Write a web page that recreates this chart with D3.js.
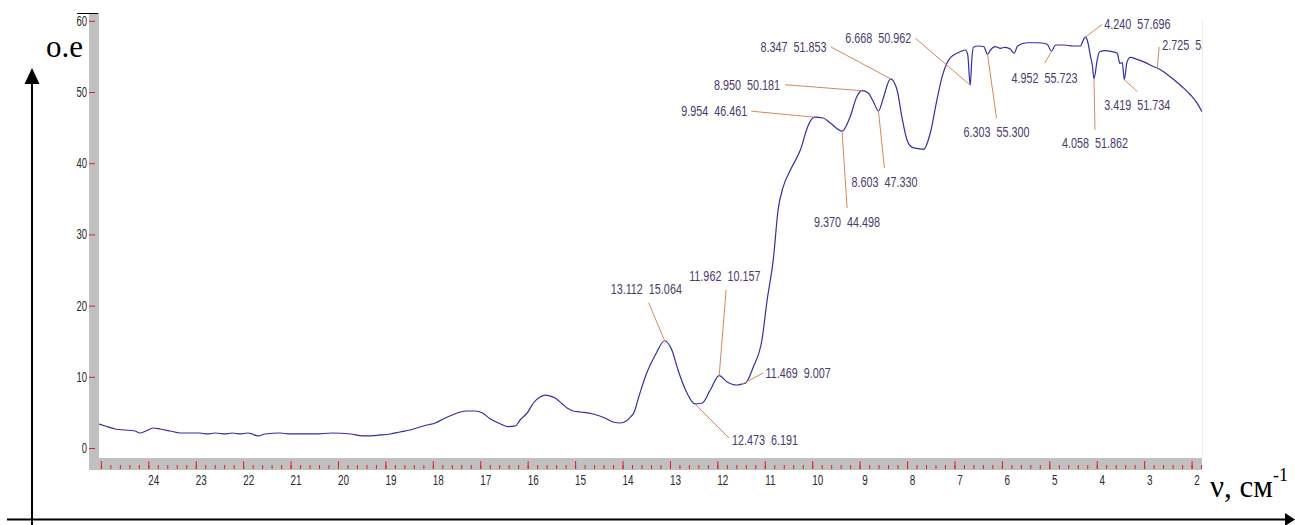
<!DOCTYPE html>
<html>
<head>
<meta charset="utf-8">
<script src="https://cdn.jsdelivr.net/npm/d3@7"></script>
<style>
  html, body { margin: 0; padding: 0; background: #ffffff; }
  svg { display: block; }
  .lbl { font-family: "Liberation Sans", Arial, Helvetica, sans-serif; }
  .ttl { font-family: "Liberation Serif", "Times New Roman", Times, serif; }
</style>
</head>
<body>
<svg id="chart" width="1295" height="525"></svg>
<script>
// ---------------- data ----------------
const wavenumber = [
  25.04, 24.91, 24.70, 24.49, 24.28, 24.18, 24.05, 23.90, 23.75, 23.54,
  23.33, 23.12, 22.91, 22.76, 22.59, 22.38, 22.23, 22.07, 21.90, 21.81,
  21.69, 21.54, 21.22, 21.01, 20.80, 20.48, 20.12, 19.74, 19.47, 19.11,
  18.90, 18.69, 18.48, 18.27, 18.12, 17.95, 17.78, 17.59, 17.42, 17.28,
  17.11, 16.96, 16.79, 16.58, 16.41, 16.26, 16.16, 16.01, 15.88, 15.74,
  15.63, 15.53, 15.42, 15.27, 15.17, 15.04, 14.89, 14.62, 14.37, 14.20,
  14.05, 13.92, 13.84, 13.75, 13.67, 13.58, 13.49, 13.31, 13.112, 12.96, 12.83,
  12.64, 12.473, 12.32, 12.15, 11.962, 11.80, 11.59, 11.469, 11.41, 11.24,
  11.06, 10.95, 10.82, 10.72, 10.61, 10.46, 10.25, 10.08, 9.954, 9.77,
  9.62, 9.370, 9.20, 9.06, 8.950, 8.82, 8.71, 8.603, 8.50, 8.39,
  8.347, 8.21, 8.11, 8.00, 7.89, 7.79, 7.65, 7.51, 7.37, 7.26,
  7.16, 7.07, 6.95, 6.88, 6.77, 6.72, 6.668, 6.63, 6.60, 6.49,
  6.38, 6.303, 6.24, 6.14, 6.03, 5.93, 5.82, 5.74, 5.67, 5.47,
  5.26, 5.05, 4.952, 4.87, 4.70, 4.49, 4.34, 4.30, 4.240, 4.20,
  4.13, 4.09, 4.058, 3.99, 3.94, 3.82, 3.68, 3.57, 3.51, 3.46,
  3.419, 3.36, 3.29, 3.15, 2.97, 2.80, 2.725, 2.59, 2.41, 2.20,
  2.02, 1.88, 1.78
];
const intensity = [
  3.37, 3.09, 2.67, 2.53, 2.39, 2.11, 2.39, 2.81, 2.67, 2.39,
  2.11, 2.11, 2.11, 1.97, 2.11, 1.97, 2.11, 1.97, 2.11, 1.97,
  1.69, 1.97, 2.11, 1.97, 1.97, 1.97, 2.11, 1.97, 1.69, 1.83,
  1.97, 2.25, 2.53, 2.95, 3.23, 3.51, 4.07, 4.63, 5.06, 5.20,
  5.20, 4.95, 4.10, 3.40, 3.00, 3.10, 3.93, 4.92, 6.32, 7.16,
  7.44, 7.30, 7.02, 6.18, 5.62, 5.20, 5.06, 4.78, 4.21, 3.65,
  3.51, 3.79, 4.30, 5.10, 6.90, 8.80, 10.53, 13.06, 15.064, 13.76, 10.96,
  7.72, 6.191, 6.32, 8.15, 10.157, 9.31, 8.85, 9.007, 9.09, 11.42,
  15.17, 20.79, 26.5, 33.43, 36.70, 39.04, 41.85, 45.37, 46.461, 46.35,
  45.65, 44.498, 46.53, 49.34, 50.181, 49.86, 48.64, 47.330, 49.16, 51.45,
  51.853, 50.28, 46.53, 43.26, 42.23, 42.09, 41.95, 44.24, 48.88, 52.15,
  54.03, 54.92, 55.44, 55.66, 55.90, 55.20, 50.962, 54.96, 56.28, 56.46,
  56.36, 55.300, 55.90, 56.36, 56.14, 56.28, 56.00, 55.44, 56.46, 56.92,
  56.92, 56.74, 55.723, 56.60, 56.60, 56.46, 56.46, 57.07, 57.696, 57.30,
  54.96, 53.65, 51.862, 54.49, 55.66, 55.80, 55.66, 55.44, 54.03, 54.12,
  51.734, 54.26, 54.87, 54.59, 54.12, 53.55, 53.37, 52.85, 51.92, 50.74,
  49.58, 48.41, 47.23
];

// labelled peaks
const peakWavenumber = [13.112, 11.962, 11.469, 12.473, 9.954, 8.950, 8.347, 6.668,
                        8.603, 9.370, 6.303, 4.952, 4.240, 4.058, 3.419, 2.725];
const peakValue      = [15.064, 10.157, 9.007, 6.191, 46.461, 50.181, 51.853, 50.962,
                        47.330, 44.498, 55.300, 55.723, 57.696, 51.862, 51.734, 53.370];

const yTickValues = [0, 10, 20, 30, 40, 50, 60];
const xMajorTicks = d3.range(2, 26, 1);
const xMinorTicks = d3.range(18, 251, 2).map(d => d / 10);
const xTickLabels = d3.range(2, 25, 1);

const yAxisTitle = "o.e";
const xAxisTitle = "ν, см";
const xAxisTitleSup = "-1";

// ---------------- layout ----------------
// leader start offset (lx, ly) from the point, text offset (tx, ty) from the leader start
const labelLayout = [
  { lx: -16, ly: -38, tx: -38, ty: -9,  anchor: "start" },
  { lx:   7, ly: -86, tx: -37, ty: -9,  anchor: "start" },
  { lx:  21, ly: -11, tx:   2, ty:  5,  anchor: "start" },
  { lx:  34, ly:  34, tx:   3, ty:  7,  anchor: "start" },
  { lx: -63, ly:  -6, tx:  -4, ty:  5,  anchor: "end" },
  { lx: -77, ly:  -6, tx:  -5, ty:  5,  anchor: "end" },
  { lx: -60, ly: -32, tx:  -4, ty:  5,  anchor: "end" },
  { lx: -55, ly: -47, tx:  -4, ty:  5,  anchor: "end" },
  { lx:   6, ly:  57, tx:   0, ty: 19,  anchor: "middle" },
  { lx:   5, ly:  77, tx:   0, ty: 19,  anchor: "middle" },
  { lx:   9, ly:  64, tx:   0, ty: 19,  anchor: "middle" },
  { lx:  -7, ly:  12, tx:   0, ty: 20,  anchor: "middle" },
  { lx:  17, ly: -13, tx:   2, ty:  5,  anchor: "start" },
  { lx:   1, ly:  51, tx:   0, ty: 18,  anchor: "middle" },
  { lx:  13, ly:  12, tx:   0, ty: 18,  anchor: "middle" },
  { lx:   2, ly: -21, tx:   3, ty:  3,  anchor: "start" }
];

const plot = { left: 99, right: 1202, top: 13, bottom: 458 };

// condense text horizontally (the reference uses a narrow font)
function condense(sel, factor) {
  sel.each(function () {
    const w = this.getComputedTextLength();
    if (w > 0) {
      this.setAttribute("textLength", (w * factor).toFixed(2));
      this.setAttribute("lengthAdjust", "spacingAndGlyphs");
    }
  });
}

const svg = d3.select("#chart");

const x = d3.scaleLinear().domain([25.04, 1.78]).range([plot.left, plot.right]);
const y = d3.scaleLinear().domain([0, 60]).range([448, 20.8]);

svg.append("defs").append("clipPath").attr("id", "plotclip")
  .append("rect").attr("x", plot.left).attr("y", plot.top)
  .attr("width", plot.right - plot.left).attr("height", plot.bottom - plot.top);

// gray frame bands
svg.append("rect").attr("x", 89).attr("y", plot.top).attr("width", plot.left - 89)
  .attr("height", 470 - plot.top).attr("fill", "#c0c0c0");
svg.append("rect").attr("x", 89).attr("y", plot.bottom).attr("width", plot.right - 89)
  .attr("height", 12).attr("fill", "#c0c0c0");
svg.append("line").attr("x1", 77).attr("x2", 98).attr("y1", 13.5).attr("y2", 13.5)
  .attr("stroke", "#000").attr("stroke-width", 1);
svg.append("line").attr("x1", plot.right + 0.5).attr("x2", plot.right + 0.5)
  .attr("y1", 20).attr("y2", plot.bottom).attr("stroke", "#ecebe4").attr("stroke-width", 1);

// y axis
const yAxis = svg.append("g").attr("transform", "translate(95,0)")
  .call(d3.axisLeft(y).tickValues(yTickValues).tickSize(6).tickPadding(2).tickFormat(d3.format("d")));
yAxis.select(".domain").remove();
yAxis.selectAll(".tick line").attr("stroke", "#e02020").attr("stroke-width", 1);
yAxis.selectAll(".tick text").attr("class", "lbl").attr("fill", "#2a2a2a")
  .style("font-size", "14px").call(condense, 0.68);

// x ticks (red, inside bottom band)
const xMinor = svg.append("g").attr("transform", "translate(0,469)")
  .call(d3.axisTop(x).tickValues(xMinorTicks).tickSize(4).tickFormat(""));
xMinor.select(".domain").remove();
xMinor.selectAll(".tick line").attr("stroke", "#e02020");
const xMajor = svg.append("g").attr("transform", "translate(0,469)")
  .call(d3.axisTop(x).tickValues(xMajorTicks).tickSize(8).tickFormat(""));
xMajor.select(".domain").remove();
xMajor.selectAll(".tick line").attr("stroke", "#e02020");

const xLab = svg.append("g").attr("transform", "translate(0,470)")
  .call(d3.axisBottom(x).tickValues(xTickLabels).tickSize(0).tickPadding(4).tickFormat(d3.format("d")));
xLab.select(".domain").remove();
xLab.selectAll(".tick text").attr("class", "lbl").attr("fill", "#2a2a2a")
  .attr("dx", 5).style("font-size", "15px").call(condense, 0.66);

// curve
const pts = wavenumber.map((w, i) => [w, intensity[i]]);
const gPlot = svg.append("g").attr("clip-path", "url(#plotclip)");
gPlot.append("path").datum(pts)
  .attr("d", d3.line().x(d => x(d[0])).y(d => y(d[1])).curve(d3.curveMonotoneX))
  .attr("fill", "none").attr("stroke", "#2f2fa8").attr("stroke-width", 1.2);

// annotations
const fmt = d3.format(".3f");
peakWavenumber.forEach((w, i) => {
  const L = labelLayout[i];
  const px = x(w), py = y(peakValue[i]);
  const sx = px + L.lx, sy = py + L.ly;
  gPlot.append("line").attr("x1", sx).attr("y1", sy).attr("x2", px).attr("y2", py)
    .attr("stroke", "#d4895a").attr("stroke-width", 1);
  gPlot.append("text").attr("class", "lbl")
    .attr("x", sx + L.tx).attr("y", sy + L.ty)
    .attr("text-anchor", L.anchor)
    .attr("fill", "#4a3a6e").style("font-size", "15px")
    .text(fmt(w) + "\u00a0\u00a0" + fmt(peakValue[i]))
    .call(condense, 0.72);
});

// outer arrows
svg.append("line").attr("x1", 32).attr("x2", 32).attr("y1", 82).attr("y2", 525)
  .attr("stroke", "#000").attr("stroke-width", 2);
svg.append("path").attr("d", "M32,68 L24.5,84 L39.5,84 Z").attr("fill", "#000");
svg.append("line").attr("x1", 7).attr("x2", 1287).attr("y1", 519.5).attr("y2", 519.5)
  .attr("stroke", "#000").attr("stroke-width", 2);
svg.append("path").attr("d", "M1295,519.5 L1285,513 L1285,526 Z").attr("fill", "#000");

// axis titles
svg.append("text").attr("class", "ttl").attr("x", 46).attr("y", 57)
  .style("font-size", "31px").attr("fill", "#000").text(yAxisTitle);
const xt = svg.append("text").attr("class", "ttl").attr("x", 1210).attr("y", 497)
  .style("font-size", "31px").attr("fill", "#000");
xt.append("tspan").text(xAxisTitle);
xt.append("tspan").attr("dy", -16).style("font-size", "18px").text(xAxisTitleSup);
</script>
</body>
</html>
